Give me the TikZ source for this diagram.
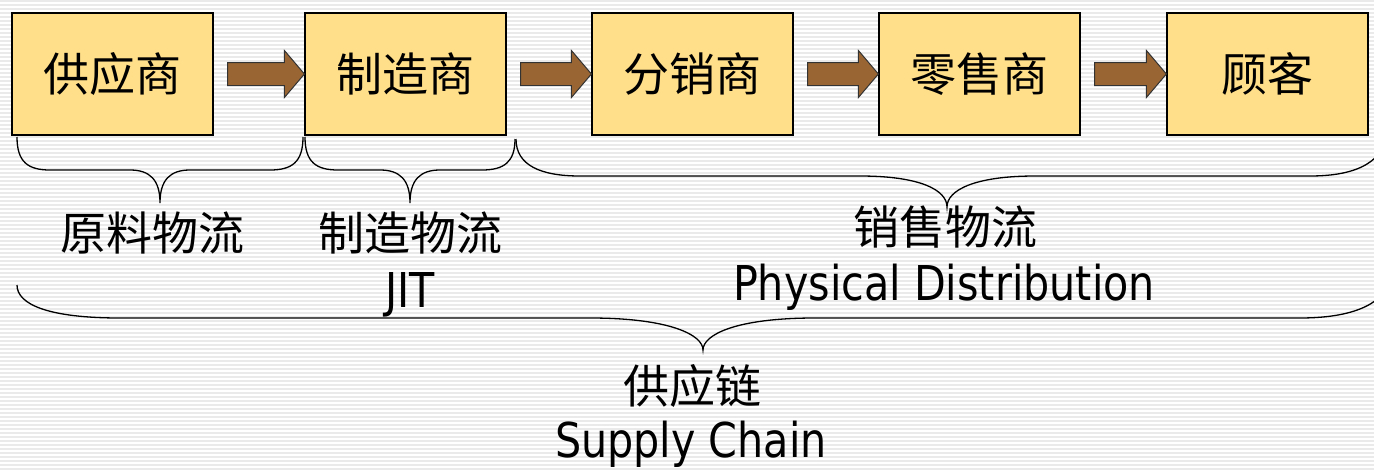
\documentclass[tikz,border=0pt]{standalone}
\usepackage{fontspec}
\setmainfont{DejaVu Sans}[FakeStretch=0.86]
\newfontfamily\cjk{Noto Sans CJK SC}
\usetikzlibrary{calc}
\definecolor{boxfill}{RGB}{255,223,137}
\definecolor{arrowfill}{RGB}{153,102,51}
\definecolor{stripe}{RGB}{234,234,234}
\tikzset{
  party/.style={draw=black, line width=1.2pt, fill=boxfill, minimum width=201pt, minimum height=122pt, inner sep=0pt, font=\cjk\fontsize{46}{50}\selectfont},
  blockarrow/.style={draw=black!80, line width=1pt, fill=arrowfill},
  brace/.style={draw=black, line width=1.3pt},
  cjklabel/.style={inner sep=0pt, font=\cjk\fontsize{46}{50}\selectfont},
  latlabel/.style={inner sep=0pt, anchor=base, font=\fontsize{48}{52}\selectfont}
}
\begin{document}
\begin{tikzpicture}[x=1pt,y=-1pt]
\useasboundingbox (0,0) rectangle (1374,469);
\fill[white] (0,0) rectangle (1374,469);
\foreach \y in {1,5,...,469} \draw[stripe, line width=1.6pt] (0,\y) -- (1374,\y);

\node[party] (s1) at (112.5,74) {供应商};
\node[party] (s2) at (405.5,74) {制造商};
\node[party] (s3) at (692.5,74) {分销商};
\node[party] (s4) at (979.5,74) {零售商};
\node[party] (s5) at (1267.5,74) {顾客};

\foreach \a/\b in {s1/s2,s2/s3,s3/s4,s4/s5}{
  \draw[blockarrow] ($(\a.east)+(14,-11.5)$) -- ($(\b.west)+(-20,-11.5)$) -- ($(\b.west)+(-20,-23.5)$)
    -- (\b.west) -- ($(\b.west)+(-20,23.5)$) -- ($(\b.west)+(-20,11.5)$) -- ($(\a.east)+(14,11.5)$) -- cycle;
}

% brace 1
\draw[brace] (17,137) .. controls (17,162) and (28,170) .. (50,170) -- (130,170)
  .. controls (150,170) and (160,180) .. (160,203)
  .. controls (160,180) and (170,170) .. (190,170) -- (270,170)
  .. controls (292,170) and (303,162) .. (303,137);
% brace 2
\draw[brace] (305,137) .. controls (305,162) and (316,170) .. (338,170) -- (380,170)
  .. controls (400,170) and (410,180) .. (410,203)
  .. controls (410,180) and (420,170) .. (440,170) -- (482,170)
  .. controls (504,170) and (515,162) .. (515,139);
% brace 3
\draw[brace] (516,139) .. controls (516,165) and (540,176) .. (580,176) -- (860,176)
  .. controls (920,176) and (947,190) .. (947,207)
  .. controls (947,190) and (975,176) .. (1035,176) -- (1310,176)
  .. controls (1360,176) and (1385,160) .. (1388,130);
% big brace
\draw[brace] (17,285) .. controls (17,305) and (50,318) .. (120,318) -- (590,318)
  .. controls (670,318) and (703,335) .. (703,350)
  .. controls (703,335) and (735,318) .. (815,318) -- (1300,318)
  .. controls (1360,318) and (1385,300) .. (1390,280);

\node[cjklabel] (l1) at (152,233) {原料物流};
\node[cjklabel] (l2) at (410,233) {制造物流};
\node[latlabel] (l2e) at (410,307) {JIT};
\node[cjklabel] (l3) at (945,227) {销售物流};
\node[latlabel] (l3e) at (944,300) {Physical Distribution};
\node[cjklabel] (l4) at (692,386) {供应链};
\node[latlabel] (l4e) at (691,457) {Supply Chain};
\end{tikzpicture}
\end{document}
